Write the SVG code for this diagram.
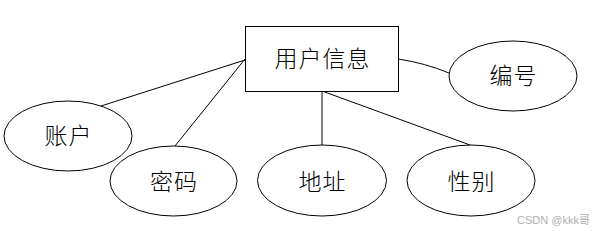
<svg xmlns="http://www.w3.org/2000/svg" width="594" height="231" viewBox="0 0 594 231">
<style>
.n{fill:#fff;stroke:#000;stroke-width:1}
.t{font-family:"Noto Sans CJK SC","Liberation Serif",sans-serif;font-size:23px;font-weight:300;letter-spacing:1px;fill:#000;text-anchor:middle;dominant-baseline:central}
.c line,.c path{stroke:#000;stroke-width:1;fill:none}
.w{font-family:"Liberation Sans","Noto Sans CJK SC",sans-serif;font-size:11px;fill:#b0b0b0;text-anchor:end;dominant-baseline:central}
</style>
<rect width="594" height="231" fill="#fff"/>
<g class="c" id="connectors">
<line x1="245" y1="60" x2="101" y2="106"/>
<line x1="245" y1="59" x2="175" y2="146"/>
<line x1="322" y1="91" x2="322" y2="145"/>
<line x1="322" y1="91" x2="470" y2="145"/>
<path d="M398 59 Q425 63 449 73"/>
</g>
<g id="user"><rect class="n" x="245.5" y="26.5" width="153" height="65"/><text class="t" x="322.5" y="57">用户信息</text></g>
<g id="account"><ellipse class="n" cx="68" cy="136" rx="64" ry="35"/><text class="t" x="68.5" y="134">账户</text></g>
<g id="password"><ellipse class="n" cx="173.5" cy="181" rx="63.5" ry="35"/><text class="t" x="174" y="180">密码</text></g>
<g id="address"><ellipse class="n" cx="322" cy="180.5" rx="64.5" ry="35.5"/><text class="t" x="322.5" y="180">地址</text></g>
<g id="gender"><ellipse class="n" cx="471" cy="180.5" rx="64" ry="35.5"/><text class="t" x="471.5" y="180">性别</text></g>
<g id="number"><ellipse class="n" cx="513" cy="76" rx="64" ry="35"/><text class="t" x="513.5" y="74">编号</text></g>
<text class="w" x="590" y="220">CSDN @kkk哥</text>
</svg>
